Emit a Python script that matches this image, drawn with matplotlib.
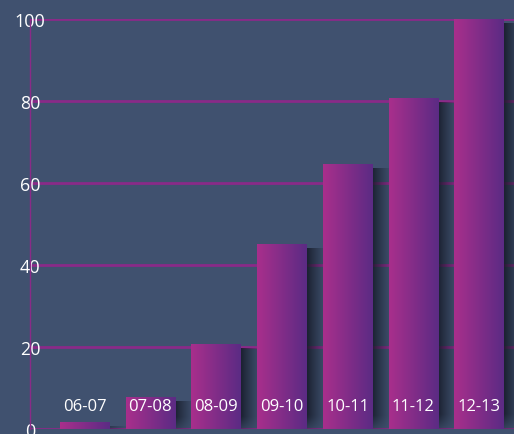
import numpy as np
import matplotlib
matplotlib.use("Agg")
import matplotlib.pyplot as plt
from matplotlib.colors import LinearSegmentedColormap

seasons = ["06-07", "07-08", "08-09", "09-10", "10-11", "11-12", "12-13"]
values = [1.7, 7.8, 20.7, 45.1, 64.6, 80.7, 100]
yticks = [0, 20, 40, 60, 80, 100]

bg = "#40516f"
grid_col = "#8a2a88"
bar_cmap = LinearSegmentedColormap.from_list("bar", ["#a92f8c", "#5b2b84"])

plt.rcParams["font.family"] = ["Open Sans", "DejaVu Sans"]

fig = plt.figure(figsize=(5.14, 4.35), dpi=100)
fig.patch.set_facecolor(bg)
ax = fig.add_axes([30 / 514, 5 / 435, 484 / 514, 410 / 435])
ax.set_facecolor(bg)

width = 0.75
xlim = (-0.83, 6.53)
ylim = (0, 100)

# grid lines
for t in yticks:
    ax.axhline(t, color=grid_col, lw=2, zorder=1)

grad = np.linspace(0, 1, 256).reshape(1, -1)

# soft shadow to the right of each bar
sh_w = 0.32
nx, ny = 40, 80
fx = np.linspace(1, 0, nx) ** 1.3
for i, v in enumerate(values):
    x1 = i + width / 2
    top = max(v - 1.0, 0.5)
    yy = np.linspace(0, 1, ny)
    fy = np.clip((1 - yy) * (top + 2) / 5, 0, 1)
    alpha = (fy[:, None] * fx[None, :]) * 0.85
    rgba = np.zeros((ny, nx, 4))
    rgba[..., 0] = 0.08
    rgba[..., 1] = 0.10
    rgba[..., 2] = 0.15
    rgba[..., 3] = alpha
    ax.imshow(rgba, extent=[x1, x1 + sh_w, -2, top], origin="upper",
              aspect="auto", zorder=2, interpolation="bilinear")

# gradient filled bars
for i, v in enumerate(values):
    x0 = i - width / 2
    ax.imshow(grad, extent=[x0, x0 + width, 0, v], cmap=bar_cmap,
              aspect="auto", zorder=3, interpolation="bilinear")
    ax.text(i, 5.6, seasons[i], color="white", ha="center", va="center",
            fontsize=12, zorder=4)

ax.set_xlim(*xlim)
ax.set_ylim(*ylim)

for s in ["top", "right", "bottom"]:
    ax.spines[s].set_visible(False)
ax.spines["left"].set_color(grid_col)
ax.spines["left"].set_linewidth(1)
ax.set_xticks([])
ax.set_yticks(yticks)
ax.tick_params(axis="y", length=0, pad=0, colors="white", labelsize=13)
for lbl in ax.get_yticklabels():
    lbl.set_horizontalalignment("center")
    lbl.set_zorder(5)

fig.savefig("out.png", dpi=100, facecolor=bg)
